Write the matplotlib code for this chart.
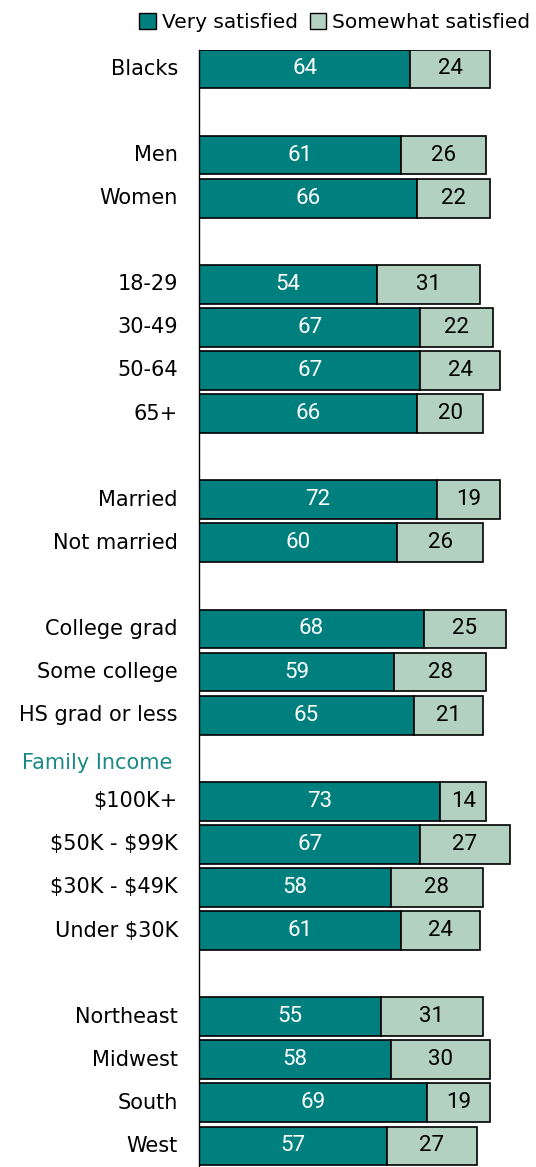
import matplotlib.pyplot as plt
from matplotlib.patches import Patch

# groups, blank rows mark the gaps between blocks
labels = ["Blacks", "", "Men", "Women", "", "18-29", "30-49", "50-64", "65+", "",
          "Married", "Not married", "", "College grad", "Some college", "HS grad or less",
          "Family Income", "\\$100K+", "\\$50K - \\$99K", "\\$30K - \\$49K", "Under \\$30K", "",
          "Northeast", "Midwest", "South", "West"]
very = [64, None, 61, 66, None, 54, 67, 67, 66, None, 72, 60, None, 68, 59, 65,
        None, 73, 67, 58, 61, None, 55, 58, 69, 57]
somewhat = [24, None, 26, 22, None, 31, 22, 24, 20, None, 19, 26, None, 25, 28, 21,
            None, 14, 27, 28, 24, None, 31, 30, 19, 27]

dark = "#007f7f"
light = "#b3d1c1"
numfont = ["Roboto", "DejaVu Sans"]

W, H = 536, 1167
fig = plt.figure(figsize=(W / 100, H / 100), dpi=100)
ax = fig.add_axes([199 / W, 0, 1 - 199 / W, 1 - 50 / H])

for i, (lab, v, s) in enumerate(zip(labels, very, somewhat)):
    if v is None:
        if lab:
            ax.text(-8.2, i + 0.1, lab, ha="right", va="center", color="#1a8a86", fontsize=15)
        continue
    ax.barh(i, v, height=0.9, color=dark, edgecolor="black", linewidth=1.2)
    ax.barh(i, s, left=v, height=0.9, color=light, edgecolor="black", linewidth=1.2)
    ax.text(v / 2, i, str(v), ha="center", va="center", color="white", fontsize=16, family=numfont)
    ax.text(v + s / 2, i, str(s), ha="center", va="center", color="black", fontsize=16, family=numfont)
    ax.text(-6.4, i, lab, ha="right", va="center", color="black", fontsize=15)

ax.set_xlim(0, 102)
ax.set_ylim(25.49, -0.44)
for sp in ["top", "right", "bottom"]:
    ax.spines[sp].set_visible(False)
ax.spines["left"].set_linewidth(1)
ax.set_xticks([])
ax.set_yticks([])

handles = [Patch(facecolor=dark, edgecolor="black", label="Very satisfied"),
           Patch(facecolor=light, edgecolor="black", label="Somewhat satisfied")]
fig.legend(handles=handles, loc="upper right", bbox_to_anchor=(1.0, 0.994), ncol=2,
           frameon=False, fontsize=14.5, handlelength=0.8, handleheight=0.8,
           handletextpad=0.3, columnspacing=0.6, borderaxespad=0.2, borderpad=0.1)

fig.savefig("out.png", dpi=100)
